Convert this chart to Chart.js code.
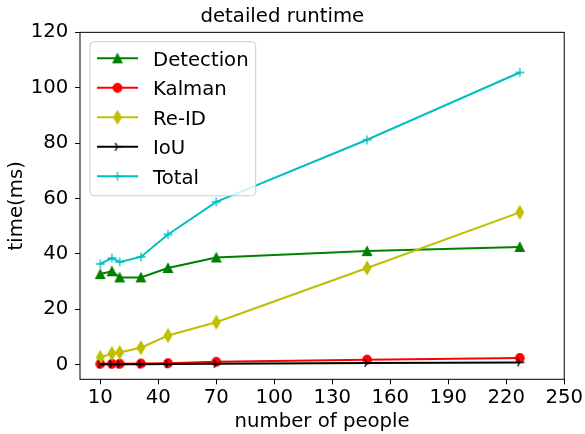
<!DOCTYPE html>
<html>
<head>
<meta charset="utf-8">
<script src="https://cdn.jsdelivr.net/npm/chart.js@4.4.0/dist/chart.umd.min.js"></script>
<style>
    html, body { margin: 0; padding: 0; background: #fff; }
    #wrap { width: 585px; height: 434px; }
</style>
</head>
<body>
<div id="wrap"><canvas id="chart" width="585" height="434"></canvas></div>
<script>
// values
const people = [10, 16, 20, 31, 45, 70, 148, 227];
const detection = [32.7, 33.7, 31.5, 31.5, 34.9, 38.7, 41.0, 42.5];
const kalman = [0.3, 0.3, 0.3, 0.4, 0.5, 1.0, 1.8, 2.4];
const reid = [2.6, 4.0, 4.4, 6.1, 10.5, 15.3, 34.9, 55.0];
const iou = [0.1, 0.1, 0.1, 0.1, 0.2, 0.3, 0.6, 0.8];
const total = [36.4, 38.5, 37.1, 38.9, 47.0, 58.8, 81.2, 105.5];

const seriesNames = ['Detection', 'Kalman', 'Re-ID', 'IoU', 'Total'];
const xTicks = [10, 40, 70, 100, 130, 160, 190, 220, 250];
const yTicks = [0, 20, 40, 60, 80, 100, 120];

const FONT_FAMILY = 'DejaVu Sans';
const FONT_SIZE = 19.7;

const makeMarker = (draw) => {
    const c = document.createElement('canvas');
    c.width = 16;
    c.height = 16;
    const ctx = c.getContext('2d');
    ctx.translate(8, 8);
    draw(ctx);
    return c;
};

const filledMarker = (color, pathFn) => makeMarker(ctx => {
    ctx.fillStyle = color;
    ctx.strokeStyle = color;
    ctx.lineWidth = 1.2;
    ctx.beginPath();
    pathFn(ctx);
    ctx.closePath();
    ctx.fill();
    ctx.stroke();
});

const strokeMarker = (color, pathFn) => makeMarker(ctx => {
    ctx.strokeStyle = color;
    ctx.lineWidth = 1.3;
    ctx.beginPath();
    pathFn(ctx);
    ctx.stroke();
});

const markers = [
    filledMarker('#008000', ctx => { ctx.moveTo(0, -4.5); ctx.lineTo(4.5, 4.5); ctx.lineTo(-4.5, 4.5); }),
    filledMarker('#ff0000', ctx => { ctx.arc(0, 0, 4.3, 0, Math.PI * 2); }),
    filledMarker('#bfbf00', ctx => { ctx.moveTo(0, -6.4); ctx.lineTo(3.8, 0); ctx.lineTo(0, 6.4); ctx.lineTo(-3.8, 0); }),
    strokeMarker('#000000', ctx => {
        ctx.moveTo(0, 0); ctx.lineTo(4.5, 0);
        ctx.moveTo(0, 0); ctx.lineTo(-2.25, 3.9);
        ctx.moveTo(0, 0); ctx.lineTo(-2.25, -3.9);
    }),
    strokeMarker('#00bfbf', ctx => {
        ctx.moveTo(-4.5, 0); ctx.lineTo(4.5, 0);
        ctx.moveTo(0, -4.5); ctx.lineTo(0, 4.5);
    }),
];

const colors = ['#008000', '#ff0000', '#bfbf00', '#000000', '#00bfbf'];
const seriesValues = [detection, kalman, reid, iou, total];

const toPoints = (values) => values.map((v, i) => ({ x: people[i], y: v }));

const datasets = seriesNames.map((name, i) => ({
    label: name,
    data: toPoints(seriesValues[i]),
    borderColor: colors[i],
    backgroundColor: colors[i],
    borderWidth: 2,
    pointStyle: markers[i],
    pointRadius: 5,
    tension: 0,
    // later series on top, like the original
    order: seriesNames.length - i,
}));

// full box around the plot area
const frameBox = {
    id: 'frameBox',
    afterDatasetsDraw(chart) {
        const { ctx, chartArea } = chart;
        ctx.save();
        ctx.strokeStyle = '#000';
        ctx.lineWidth = 1;
        ctx.strokeRect(chartArea.left, chartArea.top, chartArea.right - chartArea.left, chartArea.bottom - chartArea.top);
        ctx.restore();
    }
};

// legend drawn inside the plot, upper left, line + marker per entry
const insideLegend = {
    id: 'insideLegend',
    afterDraw(chart) {
        const { ctx, chartArea } = chart;
        const boxX = chartArea.left + 10;
        const boxY = chartArea.top + 9.4;
        const boxW = 165.7;
        const boxH = 154;
        const rowGap = 29.5;

        ctx.save();
        ctx.beginPath();
        ctx.roundRect(boxX, boxY, boxW, boxH, 4);
        ctx.fillStyle = 'rgba(255,255,255,0.8)';
        ctx.fill();
        ctx.strokeStyle = '#cccccc';
        ctx.lineWidth = 1;
        ctx.stroke();

        ctx.font = `${FONT_SIZE}px "${FONT_FAMILY}"`;
        ctx.textBaseline = 'alphabetic';
        ctx.textAlign = 'left';
        chart.data.datasets.forEach((ds, i) => {
            const rowY = boxY + 16.6 + i * rowGap;
            ctx.beginPath();
            ctx.moveTo(boxX + 7, rowY);
            ctx.lineTo(boxX + 48, rowY);
            ctx.strokeStyle = ds.borderColor;
            ctx.lineWidth = 2;
            ctx.stroke();
            Chart.helpers.drawPoint(ctx, { pointStyle: ds.pointStyle, radius: 5, borderWidth: 0 }, boxX + 27.5, rowY);
            ctx.fillStyle = '#000';
            ctx.fillText(ds.label, boxX + 63, rowY + 7.2);
        });
        ctx.restore();
    }
};

const tickFont = { family: FONT_FAMILY, size: FONT_SIZE };

new Chart(document.getElementById('chart'), {
    type: 'line',
    data: { datasets },
    options: {
        responsive: false,
        animation: false,
        layout: { padding: { left: 0, right: 20.3, top: 0, bottom: 0 } },
        plugins: {
            legend: { display: false },
            tooltip: { enabled: false },
            title: {
                display: true,
                text: 'detailed runtime',
                color: '#000',
                font: { family: FONT_FAMILY, size: FONT_SIZE, weight: 'normal', lineHeight: 1.2 },
                padding: { top: 5, bottom: 3.7 },
            },
        },
        scales: {
            x: {
                type: 'linear',
                min: -0.5,
                max: 250,
                afterBuildTicks: scale => { scale.ticks = xTicks.map(v => ({ value: v })); },
                afterFit: scale => { scale.height = 54.7; },
                grid: { drawOnChartArea: false, drawTicks: true, tickLength: 5, color: '#000', lineWidth: 1 },
                border: { display: false },
                ticks: { color: '#000', font: tickFont, padding: 2, maxRotation: 0, autoSkip: false },
                title: {
                    display: true,
                    text: 'number of people',
                    color: '#000',
                    font: { family: FONT_FAMILY, size: FONT_SIZE, lineHeight: 1.2 },
                    padding: { top: 0, bottom: 0 },
                },
            },
            y: {
                type: 'linear',
                min: -5.3,
                max: 120,
                afterBuildTicks: scale => { scale.ticks = yTicks.map(v => ({ value: v })); },
                afterFit: scale => { scale.width = 80; },
                grid: { drawOnChartArea: false, drawTicks: true, tickLength: 5, color: '#000', lineWidth: 1 },
                border: { display: false },
                ticks: { color: '#000', font: tickFont, padding: 6.7 },
                title: {
                    display: true,
                    text: 'time(ms)',
                    color: '#000',
                    font: { family: FONT_FAMILY, size: FONT_SIZE, lineHeight: 1.2 },
                    padding: { top: 5.3, bottom: 0 },
                },
            },
        },
    },
    plugins: [frameBox, insideLegend],
});
</script>
</body>
</html>
